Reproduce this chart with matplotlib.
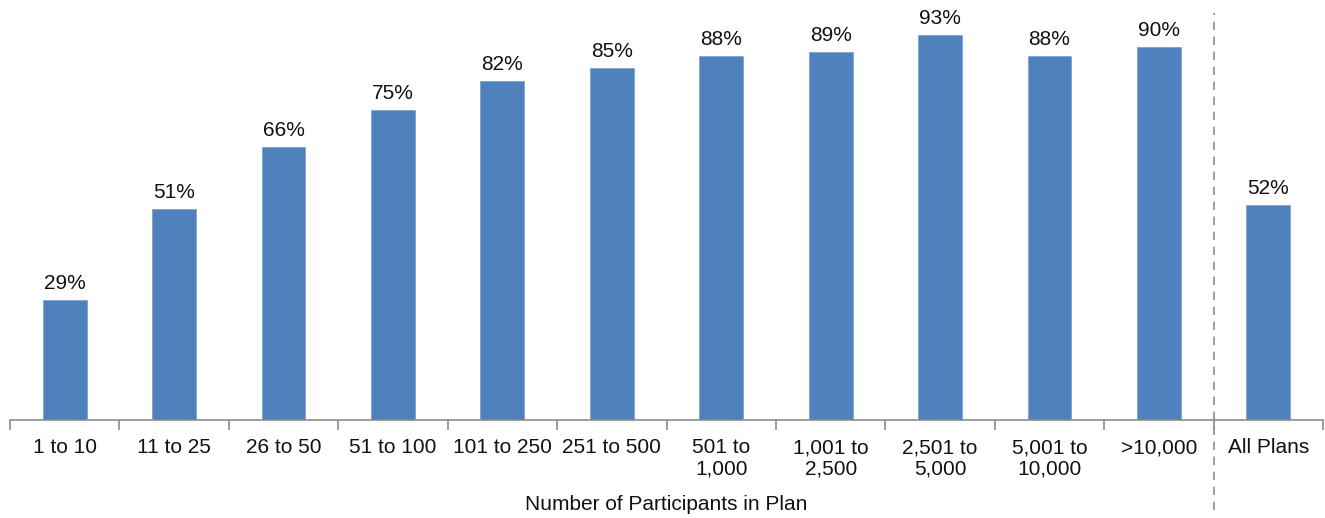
import matplotlib
matplotlib.use("Agg")
import matplotlib.pyplot as plt
import numpy as np

categories = ["1 to 10", "11 to 25", "26 to 50", "51 to 100", "101 to 250",
              "251 to 500", "501 to\n1,000", "1,001 to\n2,500", "2,501 to\n5,000",
              "5,001 to\n10,000", ">10,000", "All Plans"]
values = [29, 51, 66, 75, 82, 85, 88, 89, 93, 88, 90, 52]


def main():
    plt.rcParams['font.family'] = ['Liberation Sans', 'DejaVu Sans']

    fig = plt.figure(figsize=(13.25, 5.18), dpi=100)
    ax = fig.add_axes([10 / 1325, 98 / 518, 1313 / 1325, 414 / 518])

    x = np.arange(len(categories))
    bars = ax.bar(x, values, width=0.4, color="#4F81BD", edgecolor="#7FA3D0", linewidth=0.6)

    for b, v in zip(bars, values):
        ax.annotate(f"{v}%", (b.get_x() + b.get_width() / 2, v),
                    xytext=(0, 5), textcoords="offset points",
                    ha="center", va="bottom", fontsize=15, color="#111111")

    ax.set_xlim(-0.5, len(categories) - 0.5)
    ax.set_ylim(0, 100)

    for s in ["top", "right", "left"]:
        ax.spines[s].set_visible(False)
    ax.spines["bottom"].set_color("#8c8c8c")
    ax.spines["bottom"].set_linewidth(1.2)

    ax.set_yticks([])
    ax.set_xticks(x)
    ax.set_xticklabels(categories, fontsize=15, color="#111111", linespacing=1.15)
    ax.tick_params(axis="x", which="major", length=0, pad=13)
    ax.set_xticks(np.arange(len(categories) + 1) - 0.5, minor=True)
    ax.tick_params(axis="x", which="minor", length=7, width=1.2, color="#8c8c8c")

    # dashed separator before "All Plans"
    ax.axvline(len(categories) - 1.5, ymin=-0.217, ymax=0.983, color="#8c8c8c",
               linestyle=(0, (5, 4)), linewidth=1.2, clip_on=False)

    ax.set_xlabel("Number of Participants in Plan", fontsize=15, color="#111111", labelpad=12)

    fig.savefig("out.png", dpi=100)


if __name__ == "__main__":
    main()
